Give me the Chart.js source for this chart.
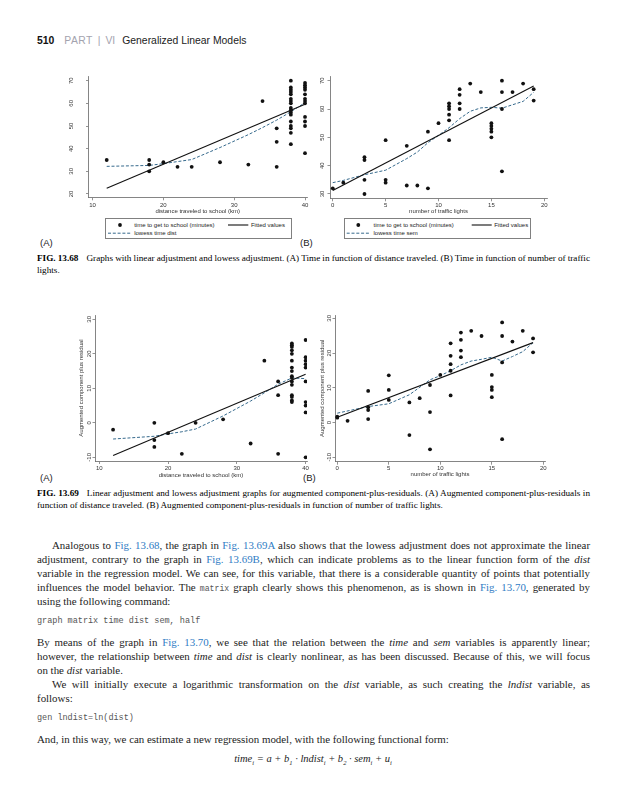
<!DOCTYPE html>
<html><head><meta charset="utf-8">
<script src="https://cdn.jsdelivr.net/npm/chart.js@4.4.1/dist/chart.umd.min.js"></script>
<style>
html,body{margin:0;padding:0;background:#fff;}
body{width:625px;height:800px;position:relative;overflow:hidden;font-family:"Liberation Serif","Times New Roman",serif;color:#1c1c1c;}
canvas{position:absolute;}
.t{position:absolute;white-space:nowrap;display:inline-block;line-height:12px;}
.body{font-size:10.9px;}
.cap{font-size:9.2px;color:#000;}
.cap b{margin-right:8px;}
.ref{color:#2f7cc4;}
.code{font-family:"Liberation Mono","DejaVu Sans Mono",monospace;color:#555;}
.lab{position:absolute;font-family:"Liberation Sans",Arial,sans-serif;font-size:9.5px;color:#222;line-height:10px;}
.legend{position:absolute;box-sizing:border-box;border:0.8px solid #808080;background:#fff;font-family:"Liberation Sans",Arial,sans-serif;font-size:6px;color:#222;z-index:2;}
.legend span{position:absolute;white-space:nowrap;line-height:8px;}
</style></head><body>

<div class="t" style="left:37px;top:35px;font-family:'Liberation Sans',Arial,sans-serif;font-size:10.4px;line-height:11px;">
<b style="color:#111">510</b><span style="color:#a3a3ae;letter-spacing:0.4px;margin-left:10px">PART</span><span style="color:#a3a3ae;margin-left:5px">|</span><span style="color:#a3a3ae;margin-left:5px">VI</span><span style="color:#222;margin-left:7px">Generalized Linear Models</span>
</div>

<div class="lab" style="left:40px;top:238px">(A)</div>
<div class="lab" style="left:300px;top:238px">(B)</div>
<div class="t cap j" data-w="553" style="left:37px;top:252px"><b>FIG. 13.68</b>Graphs with linear adjustment and lowess adjustment. (A) Time in function of distance traveled. (B) Time in function of number of traffic</div>
<div class="t cap" style="left:37px;top:264px">lights.</div>

<div class="lab" style="left:40px;top:473px">(A)</div>
<div class="lab" style="left:303px;top:473px">(B)</div>
<div class="t cap j" data-w="553" style="left:37px;top:487px"><b>FIG. 13.69</b>Linear adjustment and lowess adjustment graphs for augmented component-plus-residuals. (A) Augmented component-plus-residuals in</div>
<div class="t cap" style="left:37px;top:499px">function of distance traveled. (B) Augmented component-plus-residuals in function of number of traffic lights.</div>

<div class="t body j" data-w="538" style="left:52px;top:539px">Analogous to <span class="ref">Fig. 13.68</span>, the graph in <span class="ref">Fig. 13.69A</span> also shows that the lowess adjustment does not approximate the linear</div>
<div class="t body j" data-w="553" style="left:37px;top:553px">adjustment, contrary to the graph in <span class="ref">Fig. 13.69B</span>, which can indicate problems as to the linear function form of the <i>dist</i></div>
<div class="t body j" data-w="553" style="left:37px;top:567px">variable in the regression model. We can see, for this variable, that there is a considerable quantity of points that potentially</div>
<div class="t body j" data-w="553" style="left:37px;top:581px">influences the model behavior. The <span class="code" style="font-size:8.2px">matrix</span> graph clearly shows this phenomenon, as is shown in <span class="ref">Fig. 13.70</span>, generated by</div>
<div class="t body" style="left:37px;top:595px">using the following command:</div>
<div class="t code" style="left:37px;top:615px;font-size:8.5px">graph matrix time dist sem, half</div>
<div class="t body j" data-w="553" style="left:37px;top:636px">By means of the graph in <span class="ref">Fig. 13.70</span>, we see that the relation between the <i>time</i> and <i>sem</i> variables is apparently linear;</div>
<div class="t body j" data-w="553" style="left:37px;top:650px">however, the relationship between <i>time</i> and <i>dist</i> is clearly nonlinear, as has been discussed. Because of this, we will focus</div>
<div class="t body" style="left:37px;top:664px">on the <i>dist</i> variable.</div>
<div class="t body j" data-w="538" style="left:52px;top:678px">We will initially execute a logarithmic transformation on the <i>dist</i> variable, as such creating the <i>lndist</i> variable, as</div>
<div class="t body" style="left:37px;top:692px">follows:</div>
<div class="t code" style="left:37px;top:712px;font-size:8.5px">gen lndist=ln(dist)</div>
<div class="t body" style="left:37px;top:733px">And, in this way, we can estimate a new regression model, with the following functional form:</div>
<div class="t" id="formula" style="top:753px;font-size:10.5px;font-style:italic;">time<sub style="font-size:6.5px">i</sub> = a + b<sub style="font-size:6.5px">1</sub> · lndist<sub style="font-size:6.5px">i</sub> + b<sub style="font-size:6.5px">2</sub> · sem<sub style="font-size:6.5px">i</sub> + u<sub style="font-size:6.5px">i</sub></div>

<script>
// ---------- DATA ----------
const distTicks = [10, 20, 30, 40];
const semTicks = [0, 5, 10, 15, 20];
const timeTicksA = [20, 30, 40, 50, 60, 70];
const timeTicksB = [30, 40, 50, 60, 70];
const cprTicks = [-10, 0, 10, 20, 30];

// Fig 13.68A: time vs dist
const distObs = [12, 18,18,18, 20, 22, 24, 28, 32, 34, 36,36,36,
  38,38,38,38,38,38,38,38,38,38,38,38,38,38,38,38,38,
  40,40,40,40,40,40,40,40,40,40,40,40];
const timeByDist = [35, 35,33,30, 34, 32, 32, 34, 33, 61, 49,43,32,
  70,67,66,65,64,62,61,60,58,57,56,55,52,50,49,47,42,
  69,68,67,66,64,62,61,60,54,52,50,38];
const fitDistX = [12, 40];
const fitDistY = [22.5, 59.6];
const lowDistX = [12, 18, 20, 22, 24, 28, 32, 34, 36, 38, 40];
const lowDistY = [32.2, 32.6, 33.4, 34.3, 35.2, 40.5, 46.2, 49.3, 52.6, 56.3, 60.3];

// Fig 13.68B: time vs sem
const semObs = [0, 1, 3,3,3,3, 5,5,5, 7,7, 8, 9,9, 10, 11,11,11,11,11,11,
  12,12,12,12, 13, 14, 15,15,15,15,15, 16,16,16,16, 17, 18, 19,19];
const timeBySem = [32, 34, 43,42,35,30, 49,35,34, 47,33, 33, 52,32, 55, 62,61,60,58,56,49,
  67,65,62,60, 69, 66, 55,54,53,52,50, 70,66,60,38, 66, 69, 67,63];
const fitSemX = [0, 19];
const fitSemY = [31.2, 68.1];
const lowSemX = [0, 1, 3, 5, 7, 8, 9, 10, 11, 12, 13, 14, 15, 16, 17, 18, 19];
const lowSemY = [34, 34.8, 36.8, 38.4, 42.5, 44.8, 48.1, 50.7, 53.4, 56.6, 59.2, 60.4, 60.6, 60.3, 61.5, 62.7, 65.9];

// Fig 13.69A: augmented component-plus-residual vs dist
const distObsC = [12, 18,18,18, 20, 22, 24, 28, 32, 34, 36,36,36,
  38,38,38,38,38,38,38,38,38,38,38,38,38,38,38,38,
  40,40,40,40,40,40,40,40,40,40];
const cprDist = [-2, 0,-5,-7, -3, -9, 0, 1, -6, 18, 12,8,-9,
  23,22.5,22,21,20,18,16,15,13.5,13,12,11,8,7.5,6.5,6,
  24,19,18,17,16,12,6,5,3,-10];
const fitCDistX = [12, 40];
const fitCDistY = [-9.5, 14.1];
const lowCDistX = [12, 18, 20, 22, 24, 28, 32, 34, 36, 38, 40];
const lowCDistY = [-4.7, -3.9, -3.2, -2.6, -1.8, 2, 6.3, 8.7, 11.2, 13, 12.8];

// Fig 13.69B: augmented component-plus-residual vs sem
const semObsC = [0,0, 1, 3,3,3,3, 5,5,5, 7,7, 8, 9,9,9, 10, 11,11,11,11,11,
  12,12,12,12, 13, 14, 15,15,15,15, 16,16,16,16, 17, 18, 19,19];
const cprSem = [1.7,1.4, 0.5, 9.1,4.4,3.6,1, 13.6,9.4,6.5, 5.8,-3.6, 7, 10.8,3,-7.7, 13.7, 22.8,19.2,16.8,14.9,7.8,
  25.9,23.8,20.7,18.8, 26.4, 24.9, 13.7,10.2,9.4,7.3, 28.8,24.9,17.3,-4.8, 23.3, 26.4, 24.2,20.2];
const fitCSemX = [0, 19];
const fitCSemY = [1.5, 23];
const lowCSemX = [0, 3, 5, 7, 9, 10, 11, 12, 13, 14, 15, 16, 17, 18, 19];
const lowCSemY = [2.7, 4.6, 5.4, 8, 12.3, 13.5, 14.9, 16.6, 17.7, 18.2, 18.8, 17.7, 19, 20.4, 23];

// ---------- HELPERS ----------
const zip = (xs, ys) => xs.map((x, i) => ({x, y: ys[i]}));
const LOWESS_COLOR = '#35698c';
const CFONT = {family: '"Liberation Sans", Arial, sans-serif', size: 6};

function sets(obsX, obsY, fx, fy, lx, ly, lowLabel) {
  return [
    {label: 'time to get to school (minutes)', data: zip(obsX, obsY), showLine: false,
     pointRadius: 1.9, pointBackgroundColor: '#111', pointBorderWidth: 0},
    {label: 'Fitted values', data: zip(fx, fy), showLine: true, borderColor: '#111',
     borderWidth: 1.1, pointRadius: 0, fill: false},
    {label: lowLabel, data: zip(lx, ly), showLine: true, borderColor: LOWESS_COLOR,
     borderWidth: 1, borderDash: [3, 1.8], pointRadius: 0, fill: false}
  ];
}

const yLabelPlugin = {
  id: 'ylab',
  afterDraw(chart, args, opts) {
    const s = chart.scales.y, ctx = chart.ctx;
    ctx.save();
    ctx.font = '6px "Liberation Sans", Arial, sans-serif';
    ctx.fillStyle = '#333';
    ctx.textAlign = 'center';
    ctx.textBaseline = 'middle';
    s.ticks.forEach(t => {
      const y = s.getPixelForValue(t.value);
      ctx.save();
      ctx.translate(opts.x, y);
      ctx.rotate(-Math.PI / 2);
      ctx.fillText(String(t.value), 0, 0);
      ctx.restore();
    });
    ctx.restore();
  }
};

function pageChart(c) {
  const cv = document.createElement('canvas');
  cv.width = c.box.w; cv.height = c.box.h;
  Object.assign(cv.style, {left: c.box.l + 'px', top: c.box.t + 'px', width: c.box.w + 'px', height: c.box.h + 'px'});
  document.body.appendChild(cv);
  const b = c.box, a = c.area;
  const grid = {drawOnChartArea: false, drawTicks: true, tickLength: 3, color: '#666', lineWidth: 0.7};
  return new Chart(cv, {
    type: 'scatter',
    data: {datasets: c.datasets},
    options: {
      responsive: false, animation: false, events: [],
      layout: {padding: {left: 0, top: a.T - b.t, right: b.l + b.w - a.R, bottom: 0}},
      plugins: {legend: {display: false}, tooltip: {enabled: false}, ylab: {x: c.yLabX - b.l}},
      scales: {
        x: {
          type: 'linear', position: 'bottom', min: c.xr[0], max: c.xr[1],
          afterBuildTicks: s => { s.ticks = c.xt.map(v => ({value: v})); },
          afterFit: s => { s.height = b.t + b.h - a.B; },
          ticks: {font: CFONT, color: '#333', padding: c.xPad, maxRotation: 0, autoSkip: false, callback: v => String(v)},
          grid: grid,
          border: {display: true, color: '#666', width: 0.8},
          title: {display: true, text: c.xTitle, font: CFONT, color: '#333',
                  padding: {top: 0, bottom: b.t + b.h - 3.6 - c.xTitleY}}
        },
        y: {
          type: 'linear', position: 'left', min: c.yr[0], max: c.yr[1],
          afterBuildTicks: s => { s.ticks = c.yt.map(v => ({value: v})); },
          afterFit: s => { s.width = a.L - b.l; },
          ticks: {display: false},
          grid: Object.assign({}, grid, {tickLength: 2.5}),
          border: {display: true, color: '#666', width: 0.8},
          title: c.yTitle ? {display: true, text: c.yTitle, font: CFONT, color: '#333',
                  padding: {top: Math.max(0, c.yTitleX - b.l - 3.6), bottom: 0}} : {display: false}
        }
      }
    },
    plugins: [yLabelPlugin]
  });
}

function htmlLegend(chart, spec) {
  const box = document.createElement('div');
  box.className = 'legend';
  Object.assign(box.style, {left: spec.l + 'px', top: spec.t + 'px', width: spec.w + 'px', height: spec.h + 'px'});
  const NS = 'http://www.w3.org/2000/svg';
  const svg = document.createElementNS(NS, 'svg');
  svg.setAttribute('width', spec.w); svg.setAttribute('height', spec.h);
  Object.assign(svg.style, {position: 'absolute', left: '-0.8px', top: '-0.8px'});
  box.appendChild(svg);
  spec.items.forEach(it => {
    const ds = chart.data.datasets[it.ds];
    if (ds.showLine) {
      const ln = document.createElementNS(NS, 'line');
      ln.setAttribute('x1', it.x1); ln.setAttribute('x2', it.x2);
      ln.setAttribute('y1', it.y); ln.setAttribute('y2', it.y);
      ln.setAttribute('stroke', ds.borderColor);
      ln.setAttribute('stroke-width', ds.borderWidth);
      if (ds.borderDash) ln.setAttribute('stroke-dasharray', ds.borderDash.join(','));
      svg.appendChild(ln);
    } else {
      const ci = document.createElementNS(NS, 'circle');
      ci.setAttribute('cx', it.cx); ci.setAttribute('cy', it.y);
      ci.setAttribute('r', ds.pointRadius); ci.setAttribute('fill', ds.pointBackgroundColor);
      svg.appendChild(ci);
    }
    const sp = document.createElement('span');
    sp.textContent = ds.label;
    sp.style.left = (it.tx - 0.8) + 'px';
    sp.style.top = (it.y - 4.8) + 'px';
    box.appendChild(sp);
  });
  document.body.appendChild(box);
}

// ---------- CHARTS ----------
const chA = pageChart({
  box: {l: 60, t: 66, w: 258, h: 150}, area: {L: 88.5, T: 76, R: 307, B: 197.3},
  xr: [9.43, 40.28], yr: [18.54, 72.07], xt: distTicks, yt: timeTicksA,
  xTitle: 'distance traveled to school (km)', xTitleY: 211.7, xPad: 1.6, yLabX: 71,
  datasets: sets(distObs, timeByDist, fitDistX, fitDistY, lowDistX, lowDistY, 'lowess time dist')
});
const chB = pageChart({
  box: {l: 312, t: 66, w: 246, h: 150}, area: {L: 330, T: 76, R: 547, B: 198.3},
  xr: [-0.26, 20.26], yr: [28.48, 71.66], xt: semTicks, yt: timeTicksB,
  xTitle: 'number of traffic lights', xTitleY: 211.7, xPad: 0.8, yLabX: 322.7,
  datasets: sets(semObs, timeBySem, fitSemX, fitSemY, lowSemX, lowSemY, 'lowess time sem')
});
const chC = pageChart({
  box: {l: 78, t: 305, w: 240, h: 175}, area: {L: 95, T: 315, R: 307, B: 461},
  xr: [9.37, 40.2], yr: [-11.07, 31.25], xt: distTicks, yt: cprTicks,
  xTitle: 'distance traveled to school (km)', xTitleY: 475, xPad: 0.7, yLabX: 89.3,
  yTitle: 'Augmented component plus residual', yTitleX: 81.7,
  datasets: sets(distObsC, cprDist, fitCDistX, fitCDistY, lowCDistX, lowCDistY, 'lowess cpr dist')
});
const chD = pageChart({
  box: {l: 318, t: 305, w: 238, h: 175}, area: {L: 335, T: 315, R: 545, B: 461.7},
  xr: [-0.22, 20.16], yr: [-11.27, 30.95], xt: semTicks, yt: cprTicks,
  xTitle: 'number of traffic lights', xTitleY: 474.5, xPad: 0.2, yLabX: 329.5,
  yTitle: 'Augmented component plus residual', yTitleX: 322,
  datasets: sets(semObsC, cprSem, fitCSemX, fitCSemY, lowCSemX, lowCSemY, 'lowess cpr sem')
});

htmlLegend(chA, {l: 105, t: 218, w: 187, h: 20.5, items: [
  {ds: 0, cx: 15, y: 7, tx: 29},
  {ds: 1, x1: 123, x2: 143.3, y: 7, tx: 145.7},
  {ds: 2, x1: 3, x2: 26.7, y: 15.2, tx: 29}
]});
htmlLegend(chB, {l: 344, t: 218, w: 187, h: 20.5, items: [
  {ds: 0, cx: 14.3, y: 7, tx: 29.3},
  {ds: 1, x1: 127.7, x2: 147.7, y: 7, tx: 150},
  {ds: 2, x1: 2.7, x2: 26, y: 15.2, tx: 29.3}
]});

// ---------- TEXT JUSTIFY ----------
function justifyAll() {
  document.querySelectorAll('.j').forEach(el => {
    el.style.wordSpacing = '0px';
    const w = el.getBoundingClientRect().width;
    const n = (el.textContent.match(/ /g) || []).length;
    const target = parseFloat(el.dataset.w);
    if (n) el.style.wordSpacing = ((target - w) / n) + 'px';
  });
  const f = document.getElementById('formula');
  f.style.left = (313 - f.getBoundingClientRect().width / 2) + 'px';
}
justifyAll();
if (document.fonts && document.fonts.ready) document.fonts.ready.then(justifyAll);
</script>
</body></html>
